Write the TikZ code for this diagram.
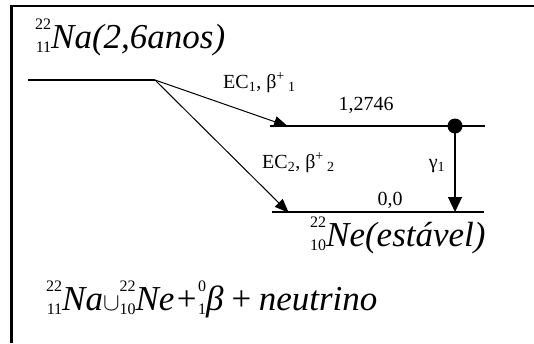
\documentclass[tikz,border=0pt]{standalone}
\usepackage{fontspec}
\setmainfont{Liberation Serif}
\usetikzlibrary{arrows.meta}
\newcommand\prescr[2]{\leavevmode\hbox{\fontsize{16}{16}\selectfont\upshape
  \setbox0\hbox{#1}\setbox2\hbox{#2}%
  \dimen0=\ifdim\wd0>\wd2 \wd0\else\wd2\fi
  \rlap{\raisebox{19pt}{\hbox to\dimen0{\hfil\box0}}}%
  \raisebox{-4pt}{\hbox to\dimen0{\hfil\box2}}}}
\tikzset{
  level/.style={line width=1.3pt},
  decay/.style={line width=1pt,-{Triangle[length=14pt,width=11pt]},shorten >=-1pt},
  gam/.style={line width=1.1pt,-{Triangle[length=15pt,width=14pt]}},
  big/.style={font=\fontsize{35}{37}\selectfont\itshape,inner sep=0pt},
  small/.style={font=\fontsize{20}{22}\selectfont,inner sep=0pt},
}
\begin{document}
\begin{tikzpicture}[x=1pt,y=-1pt]
\useasboundingbox (0,0) rectangle (534,343);
% frame
\draw[line width=2.5pt] (11.5,343) -- (11.5,6) -- (534,6);
% levels
\coordinate (p0) at (28,80);
\coordinate (p1) at (155,80);
\coordinate (l1a) at (270,126);
\coordinate (l1b) at (485,126);
\coordinate (l0a) at (272,212);
\coordinate (l0b) at (484,212);
\coordinate (t1) at (287,126);
\coordinate (t2) at (288,212);
\coordinate (g1) at (455,126);
\coordinate (g0) at (455,212);
\draw[level] (p0) -- (p1);
\draw[level] (l1a) -- (l1b);
\draw[level] (l0a) -- (l0b);
\draw[decay] (p1) -- (t1);
\draw[decay] (p1) -- (t2);
\node[circle,fill,inner sep=0pt,minimum size=15pt] (dot) at (g1) {};
\draw[gam] (dot.center) -- (g0);
% labels
\node[big,anchor=base west] (na) at (35,48) {\prescr{22}{11}Na(2,6anos)};
\node[small,anchor=base west] (ec1) at (223,88) {EC\textsubscript{1}, β\textsuperscript{+}\,\textsubscript{1}};
\node[small,anchor=base] (e1) at (366,110) {1,2746};
\node[small,anchor=base west] (ec2) at (262,168) {EC\textsubscript{2}, β\textsuperscript{+}\,\textsubscript{2}};
\node[small,anchor=base] (gm) at (437,168) {γ\textsubscript{1}};
\node[small,anchor=base] (e0) at (390,205) {0,0};
\node[big,anchor=base west] (ne) at (310,246) {\prescr{22}{10}Ne(estável)};
\node[big,anchor=base west] (eq) at (46,310) {\prescr{22}{11}Na$\cup$\prescr{22}{10}Ne+\prescr{0}{1}β\,+\,neutrino};
\end{tikzpicture}
\end{document}
